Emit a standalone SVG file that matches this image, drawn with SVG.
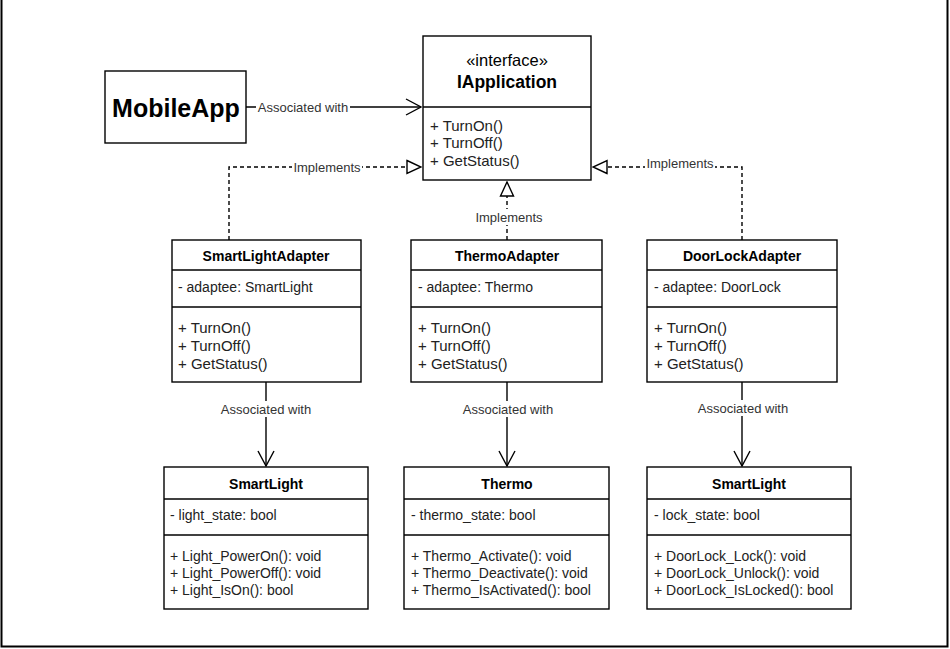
<svg xmlns="http://www.w3.org/2000/svg" width="950" height="649" viewBox="0 0 950 649">
<style>
.box{fill:#fff;stroke:#000;stroke-width:1.4}
.div{stroke:#000;stroke-width:1.3;fill:none}
.t{font-family:"Liberation Sans",Arial,sans-serif;fill:#000}
.hd{font-size:14px;font-weight:bold;text-anchor:middle}
.at{font-size:14px;fill:#222}
.me{font-size:15px;fill:#222}
.bm{font-size:14px;fill:#222}
.lbl{font-family:"Liberation Sans",Arial,sans-serif;font-size:13px;fill:#333;text-anchor:middle}
.lb{fill:#fff}
.solid{stroke:#000;stroke-width:1.4;fill:none}
.dash{stroke:#000;stroke-width:1.4;fill:none;stroke-dasharray:4 3}
</style>
<defs>
<marker id="open" markerUnits="userSpaceOnUse" viewBox="0 0 17 18" refX="16" refY="9" markerWidth="17" markerHeight="18" orient="auto">
<path d="M1,1 L16,9 L1,17" fill="none" stroke="#000" stroke-width="1.4"/>
</marker>
<marker id="tri" markerUnits="userSpaceOnUse" viewBox="0 0 16 16" refX="15" refY="8" markerWidth="16" markerHeight="16" orient="auto">
<path d="M1,1.5 L15,8 L1,14.5 Z" fill="#fff" stroke="#000" stroke-width="1.4"/>
</marker>
</defs>
<rect width="950" height="649" fill="#fff"/>
<path d="M1.5,0 V646.5 H947.5 V0" fill="none" stroke="#000" stroke-width="2"/>

<g id="connectors">
<g id="e-mobile-iapp">
<path class="solid" d="M246,107 H421" marker-end="url(#open)"/>
<rect class="lb" x="256" y="99" width="94" height="16"/>
<text class="lbl" x="303" y="112">Associated with</text>
</g>
<g id="e-sla-iapp">
<path class="dash" d="M229,240 V167 H421" marker-end="url(#tri)"/>
<rect class="lb" x="292" y="159" width="70" height="16"/>
<text class="lbl" x="327" y="172">Implements</text>
</g>
<g id="e-ta-iapp">
<path class="dash" d="M507,240 V182" marker-end="url(#tri)"/>
<rect class="lb" x="474" y="209" width="70" height="16"/>
<text class="lbl" x="509" y="222">Implements</text>
</g>
<g id="e-dla-iapp">
<path class="dash" d="M742,240 V167 H593" marker-end="url(#tri)"/>
<rect class="lb" x="645" y="155" width="70" height="16"/>
<text class="lbl" x="680" y="168">Implements</text>
</g>
<g id="e-sla-sl">
<path class="solid" d="M266,382 V466" marker-end="url(#open)"/>
<rect class="lb" x="219" y="401" width="94" height="16"/>
<text class="lbl" x="266" y="414">Associated with</text>
</g>
<g id="e-ta-t">
<path class="solid" d="M507,382 V466" marker-end="url(#open)"/>
<rect class="lb" x="461" y="401" width="94" height="16"/>
<text class="lbl" x="508" y="414">Associated with</text>
</g>
<g id="e-dla-dl">
<path class="solid" d="M742,382 V466" marker-end="url(#open)"/>
<rect class="lb" x="696" y="400" width="94" height="16"/>
<text class="lbl" x="743" y="413">Associated with</text>
</g>
</g>

<g id="MobileApp">
<rect class="box" x="105" y="71" width="141" height="72"/>
<text class="t" x="176" y="117" font-size="25" font-weight="bold" text-anchor="middle">MobileApp</text>
</g>

<g id="IApplication">
<rect class="box" x="423" y="36" width="168" height="144"/>
<line class="div" x1="423" y1="107" x2="591" y2="107"/>
<text class="t" x="507" y="66" font-size="16.5" text-anchor="middle" fill="#222">«interface»</text>
<text class="t" x="507" y="88" font-size="17.5" font-weight="bold" text-anchor="middle">IApplication</text>
<text class="t me" x="430" y="131">+ TurnOn()</text>
<text class="t me" x="430" y="148">+ TurnOff()</text>
<text class="t me" x="430" y="166">+ GetStatus()</text>
</g>

<g id="SmartLightAdapter">
<rect class="box" x="172" y="240" width="189" height="142"/>
<line class="div" x1="172" y1="270" x2="361" y2="270"/>
<line class="div" x1="172" y1="307" x2="361" y2="307"/>
<text class="t hd" x="266" y="261">SmartLightAdapter</text>
<text class="t at" x="178" y="292">- adaptee: SmartLight</text>
<text class="t me" x="178" y="333">+ TurnOn()</text>
<text class="t me" x="178" y="351">+ TurnOff()</text>
<text class="t me" x="178" y="369">+ GetStatus()</text>
</g>

<g id="ThermoAdapter">
<rect class="box" x="411" y="240" width="191" height="142"/>
<line class="div" x1="411" y1="270" x2="602" y2="270"/>
<line class="div" x1="411" y1="307" x2="602" y2="307"/>
<text class="t hd" x="507" y="261">ThermoAdapter</text>
<text class="t at" x="418" y="292">- adaptee: Thermo</text>
<text class="t me" x="418" y="333">+ TurnOn()</text>
<text class="t me" x="418" y="351">+ TurnOff()</text>
<text class="t me" x="418" y="369">+ GetStatus()</text>
</g>

<g id="DoorLockAdapter">
<rect class="box" x="647" y="240" width="190" height="142"/>
<line class="div" x1="647" y1="270" x2="837" y2="270"/>
<line class="div" x1="647" y1="307" x2="837" y2="307"/>
<text class="t hd" x="742" y="261">DoorLockAdapter</text>
<text class="t at" x="654" y="292">- adaptee: DoorLock</text>
<text class="t me" x="654" y="333">+ TurnOn()</text>
<text class="t me" x="654" y="351">+ TurnOff()</text>
<text class="t me" x="654" y="369">+ GetStatus()</text>
</g>

<g id="SmartLight">
<rect class="box" x="164" y="467" width="204" height="142"/>
<line class="div" x1="164" y1="499" x2="368" y2="499"/>
<line class="div" x1="164" y1="535" x2="368" y2="535"/>
<text class="t hd" x="266" y="489">SmartLight</text>
<text class="t at" x="170" y="520">- light_state: bool</text>
<text class="t bm" x="170" y="561">+ Light_PowerOn(): void</text>
<text class="t bm" x="170" y="578">+ Light_PowerOff(): void</text>
<text class="t bm" x="170" y="595">+ Light_IsOn(): bool</text>
</g>

<g id="Thermo">
<rect class="box" x="404" y="467" width="205" height="142"/>
<line class="div" x1="404" y1="499" x2="609" y2="499"/>
<line class="div" x1="404" y1="535" x2="609" y2="535"/>
<text class="t hd" x="507" y="489">Thermo</text>
<text class="t at" x="411" y="520">- thermo_state: bool</text>
<text class="t bm" x="411" y="561">+ Thermo_Activate(): void</text>
<text class="t bm" x="411" y="578">+ Thermo_Deactivate(): void</text>
<text class="t bm" x="411" y="595">+ Thermo_IsActivated(): bool</text>
</g>

<g id="SmartLight2">
<rect class="box" x="647" y="467" width="204" height="142"/>
<line class="div" x1="647" y1="499" x2="851" y2="499"/>
<line class="div" x1="647" y1="535" x2="851" y2="535"/>
<text class="t hd" x="749" y="489">SmartLight</text>
<text class="t at" x="654" y="520">- lock_state: bool</text>
<text class="t bm" x="654" y="561">+ DoorLock_Lock(): void</text>
<text class="t bm" x="654" y="578">+ DoorLock_Unlock(): void</text>
<text class="t bm" x="654" y="595">+ DoorLock_IsLocked(): bool</text>
</g>
</svg>
